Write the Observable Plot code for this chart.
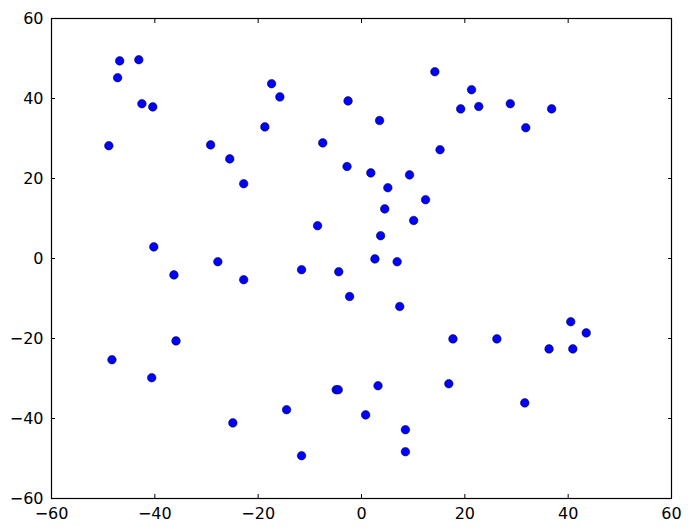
<!DOCTYPE html>
<html>
<head>
<meta charset="utf-8">
<script src="https://cdn.jsdelivr.net/npm/d3@7"></script>
<script src="https://cdn.jsdelivr.net/npm/@observablehq/plot@0.6"></script>
<style>
  html, body { margin: 0; padding: 0; background: #ffffff; }
  #chart svg { display: block; }
</style>
</head>
<body>
<div id="chart"></div>
<script>
const xs = [
  -48.9, -47.2, -46.8, -43.1, -42.5, -40.4, -40.2, -29.2, -25.5, -22.8,
  -18.7, -17.4, -15.8, -7.5, -8.5, -2.6, -2.8,
  3.5, 14.2, 21.3, 19.2, 22.7, 28.8, 36.8, 31.8, 15.2, 1.8,
  9.3, 5.1, 12.4, 4.5, 10.1, 3.7, 2.6, 6.9,
  -27.8, -36.3, -22.8, -11.6, -4.4, -2.3, -35.9, -48.3, -40.6, -14.5,
  -24.9, -11.6, -4.9, -4.5,
  7.4, 17.7, 26.2, 36.3, 40.9, 40.5, 43.5, 16.9, 31.6, 3.2,
  0.8, 8.5, 8.5
];
const ys = [
  28.2, 45.2, 49.4, 49.7, 38.7, 37.9, 2.9, 28.4, 24.9, 18.7,
  32.9, 43.7, 40.4, 28.9, 8.2, 39.4, 23.0,
  34.5, 46.7, 42.2, 37.4, 38.0, 38.7, 37.4, 32.7, 27.2, 21.4,
  20.9, 17.7, 14.7, 12.4, 9.5, 5.7, -0.1, -0.8,
  -0.8, -4.1, -5.3, -2.8, -3.3, -9.5, -20.6, -25.3, -29.8, -37.8,
  -41.1, -49.3, -32.8, -32.8,
  -12.0, -20.1, -20.1, -22.6, -22.6, -15.8, -18.6, -31.3, -36.1, -31.8,
  -39.1, -42.8, -48.3
];
const xTicks = [-60, -40, -20, 0, 20, 40, 60];
const yTicks = [-60, -40, -20, 0, 20, 40, 60];

const points = xs.map((x, i) => ({x, y: ys[i]}));

const chart = Plot.plot({
  width: 691,
  height: 532,
  marginLeft: 51,
  marginRight: 20,
  marginTop: 18,
  marginBottom: 34,
  style: {fontFamily: "'DejaVu Sans', sans-serif", fontSize: "16px", color: "black", background: "white"},
  x: {domain: [-60, 60]},
  y: {domain: [-60, 60]},
  marks: [
    Plot.axisX({anchor: "bottom", ticks: xTicks, tickSize: 0, tickPadding: 9, label: null, fontSize: 16, tickFormat: d3.format("d")}),
    Plot.axisY({anchor: "left", ticks: yTicks, tickSize: 0, tickPadding: 8, label: null, fontSize: 16, tickFormat: d3.format("d")}),
    Plot.axisX({anchor: "bottom", ticks: xTicks, tickSize: -4, text: null, label: null}),
    Plot.axisX({anchor: "top", ticks: xTicks, tickSize: -4, text: null, label: null}),
    Plot.axisY({anchor: "left", ticks: yTicks, tickSize: -4, text: null, label: null}),
    Plot.axisY({anchor: "right", ticks: yTicks, tickSize: -4, text: null, label: null}),
    Plot.dot(points, {x: "x", y: "y", r: 4.3, fill: "#0000ff", stroke: "black", strokeWidth: 0.5}),
    Plot.frame({stroke: "black", strokeWidth: 1.2})
  ]
});
document.getElementById("chart").appendChild(chart);
</script>
</body>
</html>
